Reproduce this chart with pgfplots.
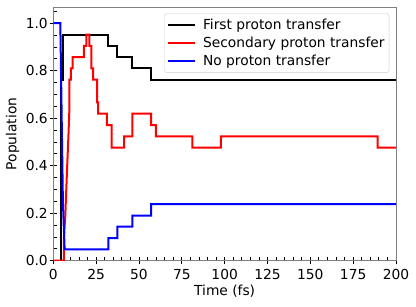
\documentclass[border=0pt]{standalone}
\usepackage{fontspec}
\setmainfont{DejaVu Sans}
\usepackage{pgfplots}
\pgfplotsset{compat=1.18}
\begin{document}
\begin{tikzpicture}[font=\fontsize{13.8}{16.5}\selectfont]
\begin{axis}[
  scale only axis,
  width=342.7pt, height=253.4pt,
  xmin=0, xmax=200, ymin=0, ymax=1.067,
  xtick={0,25,...,200},
  ytick={0,0.2,0.4,0.6,0.8,1.0},
  minor xtick={0,5,...,200},
  minor ytick={0,0.05,...,1.06},
  tick pos=left,
  tick align=inside,
  major tick length=7.3pt,
  minor tick length=3.4pt,
  major x tick style={yshift=-3.4pt},
  major y tick style={xshift=-3.6pt},
  every tick/.style={black, line width=0.8pt},
  axis line style={draw=black!50, line width=0.9pt},
  /pgf/number format/assume math mode=true,
  y tick label style={xshift=-2pt},
  yticklabel={\pgfmathprintnumber[fixed, fixed zerofill, precision=1]{\tick}},
  x tick label style={yshift=-5.2pt},
  xlabel={Time (fs)},
  ylabel={Population},
  xlabel style={at={(axis description cs:0.5,-0.1373)}, anchor=base},
  ylabel style={at={(axis description cs:-0.1080,0.5)}, anchor=base},
  legend cell align=left,
  legend image code/.code={\draw[#1, line width=2pt] (0pt,0pt) -- (27pt,0pt);},
  legend style={at={(axis description cs:0.9804,0.9763)}, anchor=north east,
    draw=black!20, rounded corners=2.5pt, fill=white, fill opacity=0.8, text opacity=1,
    inner xsep=2.5pt, inner ysep=4pt, row sep=1.6pt, column sep=5pt, nodes={inner sep=2pt}},
]
\addplot[black, line width=2pt] coordinates {
 (0,0) (4.5,0) (4.5,0.762) (5.7,0.762) (5.7,0.952) (32.1,0.952) (32.1,0.905)
 (37.4,0.905) (37.4,0.857) (46.2,0.857) (46.2,0.810) (57.1,0.810) (57.1,0.762) (200,0.762)};
\addlegendentry{First proton transfer}
\addplot[red, line width=2pt] coordinates {
 (0,0) (6.2,0) (6.2,0.095) (7,0.19) (8,0.38) (8.8,0.52) (9.4,0.64) (9.4,0.762)
 (10.3,0.762) (10.3,0.810) (11.3,0.810) (11.3,0.857) (17.9,0.857) (17.9,0.905)
 (19.3,0.905) (19.3,0.952) (21,0.952) (21,0.905) (22.2,0.905) (22.2,0.810)
 (23.2,0.810) (23.2,0.762) (25.6,0.762) (25.6,0.667) (26.1,0.667) (26.1,0.619)
 (31.2,0.619) (31.2,0.571) (34.1,0.571) (34.1,0.476) (41.4,0.476) (41.4,0.524)
 (46.1,0.524) (46.1,0.619) (57.1,0.619) (57.1,0.571) (59.9,0.571) (59.9,0.524)
 (81.2,0.524) (81.2,0.476) (97.8,0.476) (97.8,0.524) (189.3,0.524) (189.3,0.476) (200,0.476)};
\addlegendentry{Secondary proton transfer}
\addplot[blue, line width=2pt] coordinates {
 (0,1) (4.1,1) (4.7,0.7) (5.6,0.25) (6.6,0.048) (32.1,0.048) (32.1,0.095)
 (37.4,0.095) (37.4,0.143) (46.2,0.143) (46.2,0.190) (57.1,0.190) (57.1,0.238) (200,0.238)};
\addlegendentry{No proton transfer}
\end{axis}
\pgfresetboundingbox
\path[use as bounding box] (-53.3pt,-46.3pt) rectangle (362.7pt,260.7pt);
\end{tikzpicture}
\end{document}
